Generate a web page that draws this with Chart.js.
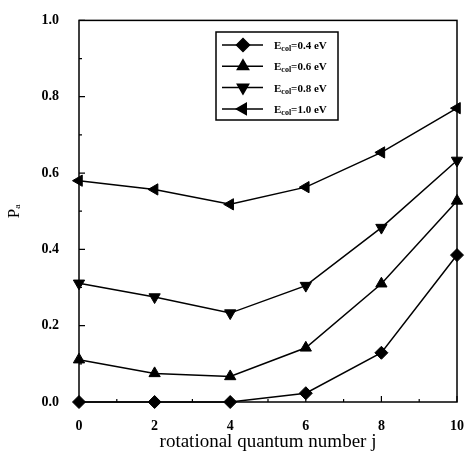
<!DOCTYPE html>
<html lang="en">
<head>
  <meta charset="UTF-8">
  <title>P_a vs j</title>
  <script src="https://cdn.jsdelivr.net/npm/chart.js"></script>
  <style>
    body {
      margin: 0;
      background-color: white;
    }
    #chartBox {
      width: 472px;
      height: 455px;
    }
  </style>
</head>
<body>

<div id="chartBox">
  <canvas id="paChart" width="472" height="455"></canvas>
</div>

<script>
  // values
  var jValues = [0, 2, 4, 6, 8, 10];
  var energies = ['0.4', '0.6', '0.8', '1.0'];
  var pa04 = [0.0, 0.0, 0.0, 0.023, 0.129, 0.385];
  var pa06 = [0.111, 0.075, 0.067, 0.142, 0.31, 0.527];
  var pa08 = [0.311, 0.275, 0.233, 0.305, 0.457, 0.633];
  var pa10 = [0.58, 0.557, 0.518, 0.563, 0.654, 0.77];
  var xTicks = [0, 2, 4, 6, 8, 10];
  var yTicks = [0.0, 0.2, 0.4, 0.6, 0.8, 1.0];

  var serif = "'Liberation Serif', 'DejaVu Serif', serif";

  function toPoints(vals) {
    return vals.map(function (v, i) { return { x: jValues[i], y: v }; });
  }

  function makeSet(energy, vals, style, rot) {
    return {
      label: 'E_col=' + energy + ' eV',
      data: toPoints(vals),
      borderColor: '#000',
      backgroundColor: '#000',
      borderWidth: 1.5,
      pointStyle: style,
      pointRotation: rot,
      pointRadius: 6.5,
      pointBorderWidth: 1,
      tension: 0,
      clip: false
    };
  }

  // frame and inward ticks
  var framePlugin = {
    id: 'frame',
    beforeDatasetsDraw: function (chart) {
      var ctx = chart.ctx;
      var a = chart.chartArea;
      var xs = chart.scales.x;
      var ys = chart.scales.y;
      ctx.save();
      ctx.strokeStyle = '#000';
      ctx.lineWidth = 1.5;
      ctx.strokeRect(a.left, a.top, a.right - a.left, a.bottom - a.top);
      ctx.lineWidth = 1.2;
      ctx.beginPath();
      for (var j = 0; j <= 10; j++) {
        var px = xs.getPixelForValue(j);
        var len = (j % 2 === 0) ? 6 : 3;
        ctx.moveTo(px, a.bottom);
        ctx.lineTo(px, a.bottom - len);
      }
      for (var k = 0; k <= 10; k++) {
        var py = ys.getPixelForValue(k / 10);
        var l = (k % 2 === 0) ? 6 : 3;
        ctx.moveTo(a.left, py);
        ctx.lineTo(a.left + l, py);
      }
      ctx.stroke();
      ctx.restore();
    }
  };

  // boxed legend with line + marker and subscripted label
  var legendPlugin = {
    id: 'boxLegend',
    afterDatasetsDraw: function (chart) {
      var ctx = chart.ctx;
      ctx.save();
      ctx.fillStyle = '#fff';
      ctx.fillRect(216, 32, 122, 88);
      ctx.strokeStyle = '#000';
      ctx.lineWidth = 1.5;
      ctx.strokeRect(216, 32, 122, 88);
      chart.data.datasets.forEach(function (ds, i) {
        var y = 45 + i * 21.3;
        ctx.strokeStyle = '#000';
        ctx.fillStyle = '#000';
        ctx.lineWidth = 1.5;
        ctx.beginPath();
        ctx.moveTo(222, y);
        ctx.lineTo(263, y);
        ctx.stroke();
        Chart.helpers.drawPoint(ctx, {
          pointStyle: ds.pointStyle,
          rotation: ds.pointRotation,
          radius: 6.5,
          borderWidth: 1
        }, 243, y);
        ctx.textBaseline = 'alphabetic';
        ctx.textAlign = 'left';
        var x = 274;
        ctx.font = 'bold 11px ' + serif;
        ctx.fillText('E', x, y + 4);
        x += ctx.measureText('E').width;
        ctx.font = 'bold 8px ' + serif;
        ctx.fillText('col', x, y + 6);
        x += ctx.measureText('col').width;
        ctx.font = 'bold 11px ' + serif;
        ctx.fillText('=' + energies[i] + ' eV', x, y + 4);
      });
      ctx.restore();
    }
  };

  var ctx = document.getElementById('paChart').getContext('2d');

  var paChart = new Chart(ctx, {
    type: 'line',
    data: {
      datasets: [
        makeSet(energies[0], pa04, 'rectRot', 0),
        makeSet(energies[1], pa06, 'triangle', 0),
        makeSet(energies[2], pa08, 'triangle', 180),
        makeSet(energies[3], pa10, 'triangle', 270)
      ]
    },
    options: {
      responsive: false,
      animation: false,
      layout: {
        padding: { top: 16, right: 10, left: 0, bottom: 0 }
      },
      scales: {
        x: {
          type: 'linear',
          min: 0,
          max: 10,
          afterFit: function (scale) { scale.height = 53; },
          afterBuildTicks: function (scale) {
            scale.ticks = xTicks.map(function (v) { return { value: v }; });
          },
          grid: { display: false },
          border: { display: false },
          ticks: {
            color: '#000',
            padding: 8,
            font: { family: serif, size: 14, weight: 'bold' },
            callback: function (v) { return String(v); }
          },
          title: {
            display: true,
            text: 'rotational quantum number j',
            color: '#000',
            padding: { top: 0, bottom: 2 },
            font: { family: serif, size: 19 }
          }
        },
        y: {
          min: 0,
          max: 1,
          afterFit: function (scale) { scale.width = 79; },
          afterBuildTicks: function (scale) {
            scale.ticks = yTicks.map(function (v) { return { value: v }; });
          },
          grid: { display: false },
          border: { display: false },
          ticks: {
            color: '#000',
            padding: 12,
            font: { family: serif, size: 14, weight: 'bold' },
            callback: function (v) { return Number(v).toFixed(1); }
          },
          title: {
            display: true,
            text: 'Pₐ',
            color: '#000',
            padding: { top: 4, bottom: 0 },
            font: { family: serif, size: 17 }
          }
        }
      },
      plugins: {
        legend: { display: false },
        tooltip: { enabled: false }
      }
    },
    plugins: [framePlugin, legendPlugin]
  });
</script>

</body>
</html>
